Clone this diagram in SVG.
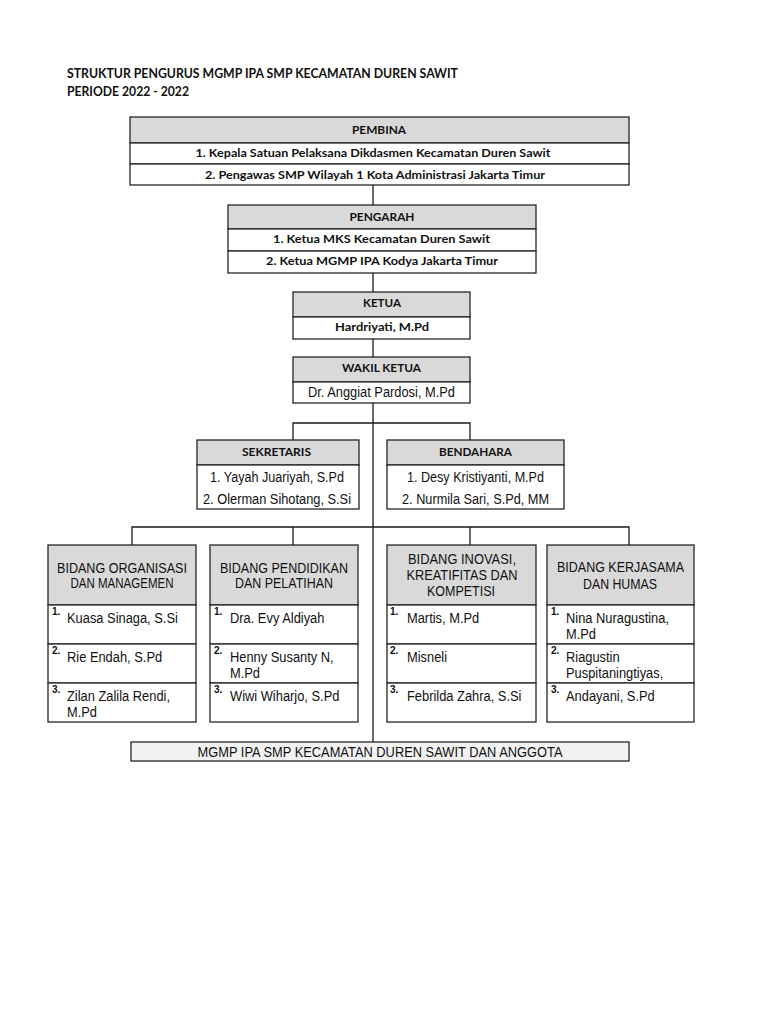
<svg xmlns="http://www.w3.org/2000/svg" width="768" height="1024" viewBox="0 0 768 1024">
<style>
.bg{fill:#ffffff}
.box{fill:#ffffff;stroke:#262626;stroke-width:1.3}
.hd{fill:#d9d9d9;stroke:#262626;stroke-width:1.3}
.ft{fill:#f2f2f2;stroke:#262626;stroke-width:1.3}
.ln{stroke:#1a1a1a;stroke-width:1.3;fill:none}
.cb{font-family:Lato,"Open Sans","Liberation Sans",sans-serif;font-weight:bold;fill:#111;text-anchor:middle}
.ar{font-family:"Liberation Sans",Arial,sans-serif;fill:#111;font-size:14px;text-anchor:middle}
.al{font-family:"Liberation Sans",Arial,sans-serif;fill:#111;font-size:14px}
.nm{font-family:"Liberation Sans",Arial,sans-serif;fill:#111;font-size:10px;font-weight:bold}
</style>
<rect class="bg" x="0" y="0" width="768" height="1024"/>
<g id="title">
<text x="67" y="78" font-family="Lato,'Open Sans','Liberation Sans',sans-serif" font-weight="bold" font-size="12.5" fill="#111" textLength="391" lengthAdjust="spacingAndGlyphs">STRUKTUR PENGURUS MGMP IPA SMP KECAMATAN DUREN SAWIT</text>
<text x="67" y="96" font-family="Lato,'Open Sans','Liberation Sans',sans-serif" font-weight="bold" font-size="12.5" fill="#111" textLength="122" lengthAdjust="spacingAndGlyphs">PERIODE 2022 - 2022</text>
</g>
<g id="connectors">
<line class="ln" x1="373" y1="185" x2="373" y2="205"/>
<line class="ln" x1="373" y1="273" x2="373" y2="292"/>
<line class="ln" x1="373" y1="339" x2="373" y2="357"/>
<line class="ln" x1="373" y1="403" x2="373" y2="742"/>
<polyline class="ln" points="293,440 293,423 470,423 470,440"/>
<polyline class="ln" points="132,545 132,527 629,527 629,545"/>
<line class="ln" x1="293" y1="527" x2="293" y2="545"/>
<line class="ln" x1="470" y1="527" x2="470" y2="545"/>
</g>
<g id="pembina">
<rect class="hd" x="130" y="117" width="499" height="26"/>
<rect class="box" x="130" y="143" width="499" height="21"/>
<rect class="box" x="130" y="164" width="499" height="21"/>
<text class="cb" x="379" y="134" font-size="11.5" textLength="54" lengthAdjust="spacingAndGlyphs">PEMBINA</text>
<text class="cb" x="373" y="157" font-size="12" textLength="355" lengthAdjust="spacingAndGlyphs">1. Kepala Satuan Pelaksana Dikdasmen Kecamatan Duren Sawit</text>
<text class="cb" x="375" y="179" font-size="12" textLength="340" lengthAdjust="spacingAndGlyphs">2. Pengawas SMP Wilayah 1 Kota Administrasi Jakarta Timur</text>
</g>
<g id="pengarah">
<rect class="hd" x="228" y="205" width="308" height="24"/>
<rect class="box" x="228" y="229" width="308" height="22"/>
<rect class="box" x="228" y="251" width="308" height="22"/>
<text class="cb" x="382" y="221" font-size="11.5" textLength="65" lengthAdjust="spacingAndGlyphs">PENGARAH</text>
<text class="cb" x="381.5" y="243" font-size="12" textLength="217" lengthAdjust="spacingAndGlyphs">1. Ketua MKS Kecamatan Duren Sawit</text>
<text class="cb" x="382" y="265" font-size="12" textLength="232" lengthAdjust="spacingAndGlyphs">2. Ketua MGMP IPA Kodya Jakarta Timur</text>
</g>
<g id="ketua">
<rect class="hd" x="293" y="292" width="177" height="25"/>
<rect class="box" x="293" y="317" width="177" height="22"/>
<text class="cb" x="382" y="307" font-size="11.5" textLength="38" lengthAdjust="spacingAndGlyphs">KETUA</text>
<text class="cb" x="382" y="331" font-size="12" textLength="94" lengthAdjust="spacingAndGlyphs">Hardriyati, M.Pd</text>
</g>
<g id="wakil-ketua">
<rect class="hd" x="293" y="357" width="177" height="25"/>
<rect class="box" x="293" y="382" width="177" height="21"/>
<text class="cb" x="381.5" y="372" font-size="11.5" textLength="79" lengthAdjust="spacingAndGlyphs">WAKIL KETUA</text>
<text class="ar" x="381.5" y="397" textLength="147" lengthAdjust="spacingAndGlyphs">Dr. Anggiat Pardosi, M.Pd</text>
</g>
<g id="sekretaris">
<rect class="hd" x="197" y="440" width="162" height="25"/>
<rect class="box" x="197" y="465" width="162" height="44"/>
<text class="cb" x="276.5" y="456" font-size="11.5" textLength="69" lengthAdjust="spacingAndGlyphs">SEKRETARIS</text>
<text class="ar" x="277" y="482" textLength="134" lengthAdjust="spacingAndGlyphs">1. Yayah Juariyah, S.Pd</text>
<text class="ar" x="277" y="504" textLength="148" lengthAdjust="spacingAndGlyphs">2. Olerman Sihotang, S.Si</text>
</g>
<g id="bendahara">
<rect class="hd" x="387" y="440" width="177" height="25"/>
<rect class="box" x="387" y="465" width="177" height="44"/>
<text class="cb" x="475.5" y="456" font-size="11.5" textLength="73" lengthAdjust="spacingAndGlyphs">BENDAHARA</text>
<text class="ar" x="475.5" y="482" textLength="137" lengthAdjust="spacingAndGlyphs">1. Desy Kristiyanti, M.Pd</text>
<text class="ar" x="475.5" y="504" textLength="147" lengthAdjust="spacingAndGlyphs">2. Nurmila Sari, S.Pd, MM</text>
</g>
<g id="bidang-organisasi">
<rect class="hd" x="48" y="545" width="148" height="60"/>
<rect class="box" x="48" y="605" width="148" height="39"/>
<rect class="box" x="48" y="644" width="148" height="39"/>
<rect class="box" x="48" y="683" width="148" height="39"/>
<text class="ar" x="122" y="573" textLength="130" lengthAdjust="spacingAndGlyphs">BIDANG ORGANISASI</text>
<text class="ar" x="122" y="588" textLength="103" lengthAdjust="spacingAndGlyphs">DAN MANAGEMEN</text>
<text class="nm" x="52" y="615">1.</text>
<text class="nm" x="52" y="654">2.</text>
<text class="nm" x="52" y="693">3.</text>
<g transform="matrix(0.92,0,0,1,5.36,0)">
<text class="al" x="67" y="623">Kuasa Sinaga, S.Si</text>
<text class="al" x="67" y="662">Rie Endah, S.Pd</text>
<text class="al" x="67" y="701">Zilan Zalila Rendi,</text>
<text class="al" x="67" y="717">M.Pd</text>
</g>
</g>
<g id="bidang-pendidikan">
<rect class="hd" x="210" y="545" width="148" height="60"/>
<rect class="box" x="210" y="605" width="148" height="39"/>
<rect class="box" x="210" y="644" width="148" height="39"/>
<rect class="box" x="210" y="683" width="148" height="39"/>
<text class="ar" x="284" y="573" textLength="128" lengthAdjust="spacingAndGlyphs">BIDANG PENDIDIKAN</text>
<text class="ar" x="284" y="588" textLength="98" lengthAdjust="spacingAndGlyphs">DAN PELATIHAN</text>
<text class="nm" x="214" y="615">1.</text>
<text class="nm" x="214" y="654">2.</text>
<text class="nm" x="214" y="693">3.</text>
<g transform="matrix(0.92,0,0,1,18.4,0)">
<text class="al" x="230" y="623">Dra. Evy Aldiyah</text>
<text class="al" x="230" y="662">Henny Susanty N,</text>
<text class="al" x="230" y="678">M.Pd</text>
<text class="al" x="230" y="701">Wiwi Wiharjo, S.Pd</text>
</g>
</g>
<g id="bidang-inovasi">
<rect class="hd" x="387" y="545" width="149" height="60"/>
<rect class="box" x="387" y="605" width="149" height="39"/>
<rect class="box" x="387" y="644" width="149" height="39"/>
<rect class="box" x="387" y="683" width="149" height="39"/>
<text class="ar" x="462" y="564" textLength="108" lengthAdjust="spacingAndGlyphs">BIDANG INOVASI,</text>
<text class="ar" x="462" y="580" textLength="111" lengthAdjust="spacingAndGlyphs">KREATIFITAS DAN</text>
<text class="ar" x="461" y="596" textLength="68" lengthAdjust="spacingAndGlyphs">KOMPETISI</text>
<text class="nm" x="390" y="615">1.</text>
<text class="nm" x="390" y="654">2.</text>
<text class="nm" x="390" y="693">3.</text>
<g transform="matrix(0.92,0,0,1,32.56,0)">
<text class="al" x="407" y="623">Martis, M.Pd</text>
<text class="al" x="407" y="662">Misneli</text>
<text class="al" x="407" y="701">Febrilda Zahra, S.Si</text>
</g>
</g>
<g id="bidang-kerjasama">
<rect class="hd" x="547" y="545" width="147" height="60"/>
<rect class="box" x="547" y="605" width="147" height="39"/>
<rect class="box" x="547" y="644" width="147" height="39"/>
<rect class="box" x="547" y="683" width="147" height="39"/>
<text class="ar" x="620.5" y="572" textLength="127" lengthAdjust="spacingAndGlyphs">BIDANG KERJASAMA</text>
<text class="ar" x="620" y="589" textLength="74" lengthAdjust="spacingAndGlyphs">DAN HUMAS</text>
<text class="nm" x="551" y="615">1.</text>
<text class="nm" x="551" y="654">2.</text>
<text class="nm" x="551" y="693">3.</text>
<g transform="matrix(0.92,0,0,1,45.28,0)">
<text class="al" x="566" y="623">Nina Nuragustina,</text>
<text class="al" x="566" y="639">M.Pd</text>
<text class="al" x="566" y="662">Riagustin</text>
<text class="al" x="566" y="678">Puspitaningtiyas,</text>
<text class="al" x="566" y="701">Andayani, S.Pd</text>
</g>
</g>
<g id="anggota">
<rect class="ft" x="131" y="742" width="498" height="19"/>
<text class="ar" x="380" y="756.5" textLength="365" lengthAdjust="spacingAndGlyphs">MGMP IPA SMP KECAMATAN DUREN SAWIT DAN ANGGOTA</text>
</g>
</svg>
